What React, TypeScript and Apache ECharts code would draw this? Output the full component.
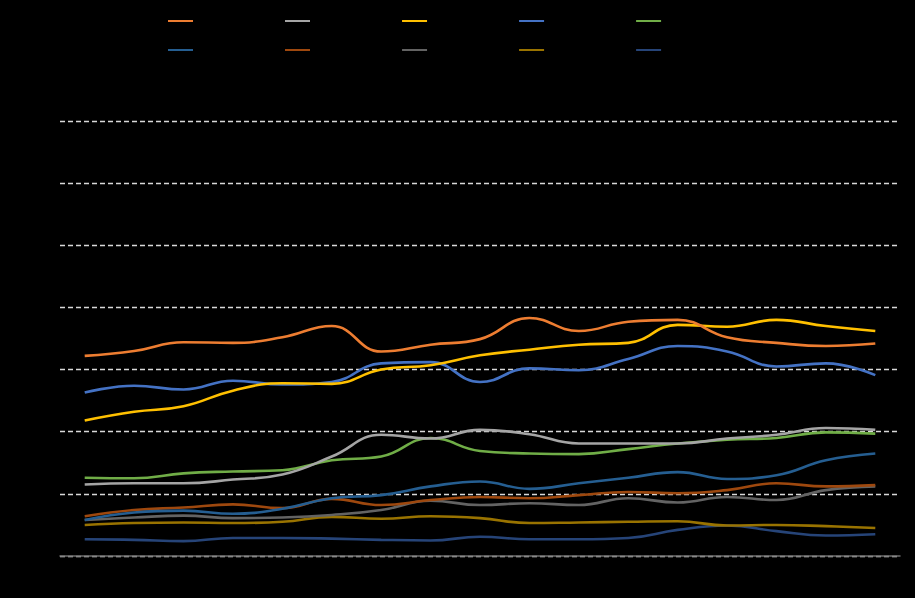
import React, { useEffect, useRef } from "react";
import * as echarts from "echarts";

const categories = ["1", "2", "3", "4", "5", "6", "7", "8", "9", "10", "11", "12", "13", "14", "15", "16", "17"];

const seriesNames = ["Series 1", "Series 2", "Series 3", "Series 4", "Series 5", "Series 6", "Series 7", "Series 8", "Series 9", "Series 10"];
const seriesColors = ["#ED7D31", "#A5A5A5", "#FFC000", "#4472C4", "#70AD47", "#255E91", "#9E480E", "#636363", "#997300", "#264478"];

const s1 = [3.22, 3.3, 3.44, 3.43, 3.52, 3.7, 3.29, 3.4, 3.49, 3.83, 3.62, 3.77, 3.8, 3.52, 3.43, 3.38, 3.42];
const s2 = [1.15, 1.17, 1.17, 1.23, 1.31, 1.6, 1.95, 1.89, 2.03, 1.96, 1.81, 1.81, 1.81, 1.89, 1.95, 2.06, 2.03];
const s3 = [2.18, 2.32, 2.41, 2.66, 2.78, 2.77, 3.0, 3.07, 3.23, 3.32, 3.4, 3.43, 3.72, 3.69, 3.8, 3.7, 3.62];
const s4 = [2.63, 2.74, 2.68, 2.82, 2.76, 2.8, 3.1, 3.12, 2.8, 3.02, 2.99, 3.17, 3.38, 3.29, 3.05, 3.1, 2.91];
const s5 = [1.26, 1.25, 1.33, 1.36, 1.38, 1.54, 1.6, 1.9, 1.69, 1.65, 1.64, 1.72, 1.81, 1.87, 1.9, 1.99, 1.97];
const s6 = [0.58, 0.7, 0.73, 0.68, 0.76, 0.93, 0.98, 1.12, 1.2, 1.08, 1.17, 1.26, 1.35, 1.24, 1.3, 1.54, 1.65];
const s7 = [0.64, 0.74, 0.78, 0.83, 0.77, 0.92, 0.82, 0.9, 0.95, 0.93, 0.98, 1.03, 1.01, 1.06, 1.17, 1.12, 1.14];
const s8 = [0.58, 0.62, 0.65, 0.61, 0.62, 0.66, 0.74, 0.89, 0.82, 0.85, 0.82, 0.93, 0.86, 0.95, 0.9, 1.06, 1.12];
const s9 = [0.5, 0.53, 0.54, 0.53, 0.55, 0.63, 0.6, 0.64, 0.61, 0.53, 0.54, 0.55, 0.56, 0.49, 0.5, 0.48, 0.45];
const s10 = [0.27, 0.26, 0.24, 0.29, 0.29, 0.28, 0.26, 0.25, 0.31, 0.27, 0.27, 0.29, 0.42, 0.49, 0.4, 0.33, 0.35];

const allSeries = [s1, s2, s3, s4, s5, s6, s7, s8, s9, s10];

export default function App() {
  const ref = useRef<HTMLDivElement>(null);
  useEffect(() => {
    if (!ref.current) return;
    const chart = echarts.init(ref.current, null, { renderer: "svg" });
    const legendCommon = {
      orient: "horizontal",
      left: 163,
      itemWidth: 25,
      itemHeight: 14,
      itemGap: 43,
      icon: "path://M0,6 L25,6 L25,8 L0,8 Z",
      textStyle: { color: "#000000", fontSize: 12, fontFamily: "Liberation Sans" },
    };
    chart.setOption({
      animation: false,
      backgroundColor: "#000000",
      legend: [
        { ...legendCommon, top: 10, data: seriesNames.slice(0, 5) },
        { ...legendCommon, top: 39, data: seriesNames.slice(5, 10) },
      ],
      grid: { left: 60, right: 15, top: 121, bottom: 42, containLabel: false },
      xAxis: {
        type: "category",
        data: categories,
        boundaryGap: true,
        axisLine: { show: true, lineStyle: { color: "#6e6e6e", width: 1.5 } },
        axisTick: { show: false },
        axisLabel: { show: false },
        splitLine: { show: false },
      },
      yAxis: {
        type: "value",
        min: 0,
        max: 7,
        interval: 1,
        axisLine: { show: false },
        axisTick: { show: false },
        axisLabel: { show: false },
        splitLine: { show: true, lineStyle: { color: "#d9d9d9", type: [5, 3], width: 1.3 } },
      },
      series: allSeries.map((d, i) => ({
        name: seriesNames[i],
        type: "line",
        data: d,
        smooth: 0.45,
        symbol: "none",
        color: seriesColors[i],
        lineStyle: { color: seriesColors[i], width: 2.6 },
        z: 20 - i,
      })),
    });
    return () => chart.dispose();
  }, []);
  return <div ref={ref} style={{ width: 915, height: 598, position: "absolute", left: 0, top: 0 }} />;
}
